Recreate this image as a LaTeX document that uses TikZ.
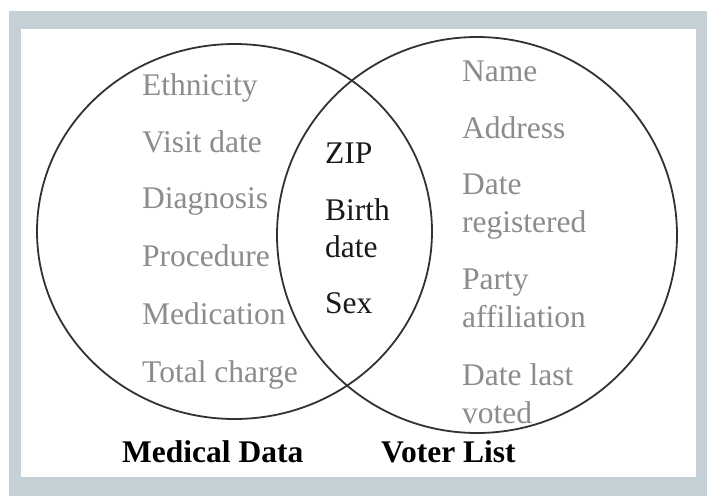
\documentclass[tikz,border=0pt]{standalone}
\usepackage{fontspec}
\setmainfont{Liberation Serif}
\definecolor{framecol}{RGB}{197,208,215}
\definecolor{listgray}{RGB}{140,140,140}
\definecolor{ringcol}{RGB}{50,50,50}
\begin{document}
\begin{tikzpicture}[x=1pt,y=-1pt,
  ring/.style={draw=ringcol,line width=1.8pt},
  item/.style={anchor=base west,inner sep=0pt,text=listgray,align=left,font=\fontsize{31.5}{37.5}\selectfont},
  shared/.style={anchor=base west,inner sep=0pt,text=black!90,align=left,font=\fontsize{31.5}{37}\selectfont},
  title/.style={anchor=base west,inner sep=0pt,text=black,font=\fontsize{31.5}{37}\selectfont\bfseries}]
\useasboundingbox (0,0) rectangle (707,496);
\fill[white] (0,0) rectangle (707,496);
\fill[framecol] (9,11) rectangle (707,496);
\fill[white] (21,29) rectangle (696,477);
% circles
\draw[ring] (234.5,231.5) ellipse [x radius=197.5pt, y radius=187.5pt];
\draw[ring] (477,235) ellipse [x radius=200pt, y radius=198pt];
% medical data
\node[item] (eth) at (142,95) {Ethnicity};
\node[item] (vis) at (142,152) {Visit date};
\node[item] (dia) at (142,208) {Diagnosis};
\node[item] (pro) at (142,266) {Procedure};
\node[item] (med) at (142,324) {Medication};
\node[item] (tot) at (142,382) {Total charge};
% shared
\node[shared] (zip) at (325,163) {ZIP};
\node[shared] (bir) at (325,257) {Birth\\date};
\node[shared] (sex) at (325,313) {Sex};
% voter list
\node[item] (nam) at (462,81) {Name};
\node[item] (adr) at (462,138) {Address};
\node[item] (reg) at (462,232) {Date\\registered};
\node[item] (par) at (462,327) {Party\\affiliation};
\node[item] (las) at (462,423) {Date last\\voted};
% titles
\node[title] (mdt) at (122,462) {Medical Data};
\node[title] (vtl) at (381,462) {Voter List};
\end{tikzpicture}
\end{document}
